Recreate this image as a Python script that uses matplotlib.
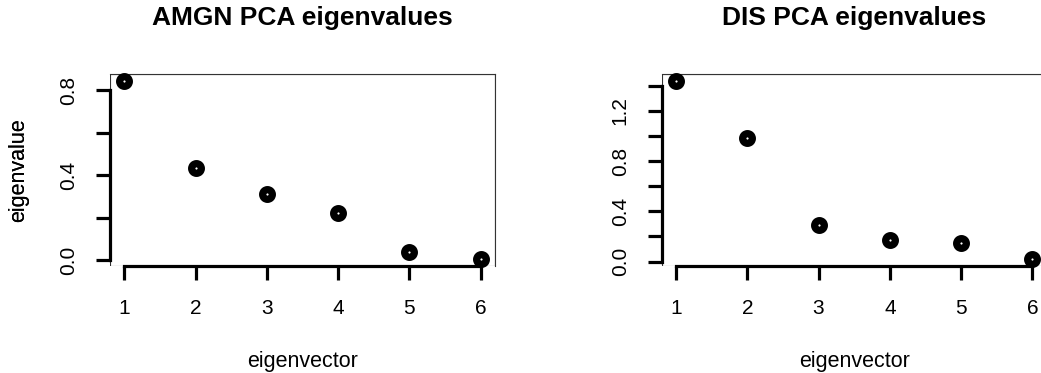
import matplotlib
matplotlib.use("Agg")
import matplotlib.pyplot as plt
from matplotlib.patches import Rectangle

plt.rcParams['font.family'] = ['Liberation Sans', 'DejaVu Sans']

# Eigenvalues of the first six principal components
eigen_index = [1, 2, 3, 4, 5, 6]
amgn_eigenvalues = [0.842, 0.434, 0.312, 0.221, 0.038, 0.006]
dis_eigenvalues = [1.436, 0.985, 0.289, 0.172, 0.148, 0.021]

amgn_yticks = [0.0, 0.2, 0.4, 0.6, 0.8]
dis_yticks = [0.0, 0.2, 0.4, 0.6, 0.8, 1.0, 1.2, 1.4]
label_every = 2  # only every second y tick carries a label

panels = [
    ("AMGN PCA eigenvalues", amgn_eigenvalues, amgn_yticks),
    ("DIS PCA eigenvalues", dis_eigenvalues, dis_yticks),
]

W, H = 1041, 373
fig = plt.figure(figsize=(W / 100, H / 100), dpi=100)

# plot regions in pixels: (left, bottom, width, height)
regions = [(110, 107, 385, 192), (661.7, 107, 385, 192)]

for (title, values, yticks), (px, py, pw, ph) in zip(panels, regions):
    ax = fig.add_axes([px / W, py / H, pw / W, ph / H])
    ax.plot(eigen_index, values, linestyle='none', marker='o',
            markersize=7.0, markeredgewidth=5.2,
            markerfacecolor='white', markeredgecolor='black',
            clip_on=False, zorder=5)
    ax.margins(x=0.04, y=0.04)

    # thin frame around the plot region
    for side in ('top', 'right'):
        ax.spines[side].set_linewidth(0.8)
        ax.spines[side].set_color('#333333')
    ax.add_patch(Rectangle((0, 0), 1, 1, transform=ax.transAxes, fill=False,
                           linewidth=0.8, edgecolor='#333333', zorder=0))

    # thick axis lines spanning only the tick range
    ax.spines['left'].set_linewidth(2.3)
    ax.spines['bottom'].set_linewidth(2.3)
    ax.spines['left'].set_bounds(yticks[0], yticks[-1])
    ax.spines['bottom'].set_bounds(eigen_index[0], eigen_index[-1])

    ax.set_xticks(eigen_index)
    ax.set_xticklabels([str(i) for i in eigen_index])
    ax.set_yticks(yticks)
    ax.set_yticklabels([f"{v:.1f}" if i % label_every == 0 else ""
                        for i, v in enumerate(yticks)])
    ax.tick_params(axis='both', length=10, width=2.3, labelsize=15,
                   direction='out')
    ax.tick_params(axis='x', pad=14)
    ax.tick_params(axis='y', pad=13)
    for lab in ax.get_yticklabels():
        lab.set_rotation(90)
        lab.set_va('center')

    ax.set_xlabel("eigenvector", fontsize=15.5, va='center')
    ax.xaxis.set_label_coords(0.5, -0.495)
    ax.set_ylabel("eigenvalue", fontsize=15.5, va='center')
    ax.yaxis.set_label_coords((19 - px) / pw, 0.5)
    ax.set_title(title, fontsize=19, fontweight='bold',
                 y=(H - py - 18) / ph, va='center', pad=0)

fig.savefig("out.png", dpi=100)
